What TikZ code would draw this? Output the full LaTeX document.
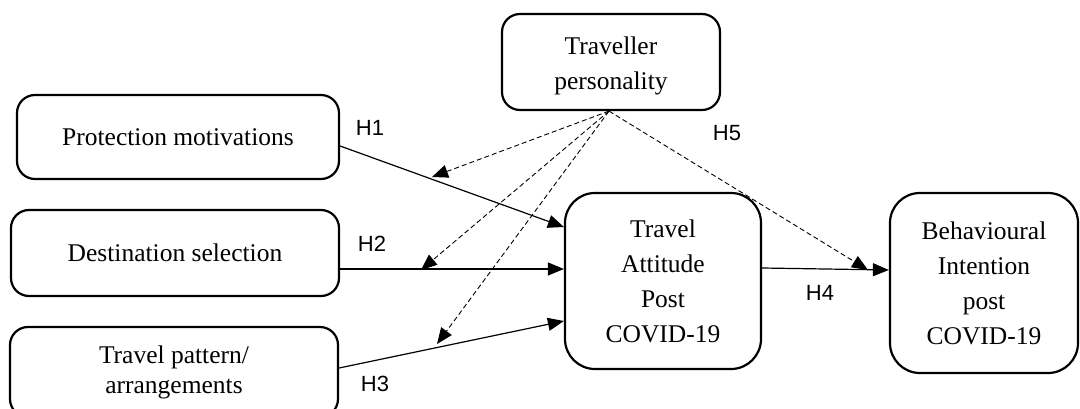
\documentclass[tikz,border=0pt]{standalone}
\usepackage{fontspec}
\setmainfont{Liberation Serif}
\newfontfamily\hfont{Liberation Sans}
\usetikzlibrary{arrows.meta,calc}
\tikzset{
  box/.style={draw, line width=2.2pt, rounded corners=18pt, align=center, inner sep=0pt,
    font=\fontsize{25.5}{35}\selectfont},
  bigbox/.style={box, rounded corners=30pt},
  arr/.style={line width=1.2pt, -{Triangle[length=16pt,width=13pt]}},
  darr/.style={line width=0.9pt, dash pattern=on 5pt off 3pt, -{Triangle[length=16pt,width=13pt]}},
  hlab/.style={font=\hfont\fontsize{22}{22}\selectfont, inner sep=0pt},
}
\begin{document}
\begin{tikzpicture}[x=1pt,y=-1pt]
\useasboundingbox (0,0) rectangle (1080,409);
\node[box, minimum width=218pt, minimum height=96pt] (tp) at (611,62) {};
\node[font=\fontsize{25.5}{35}\selectfont, align=center, inner sep=0pt] (tpt) at (611,66) {Traveller\\personality};
\node[box, minimum width=322pt, minimum height=84pt] (pm) at (178,137) {Protection motivations};
\node[box, minimum width=328pt, minimum height=86pt] (ds) at (175,253) {Destination selection};
\node[box, minimum width=328pt, minimum height=90pt, font=\fontsize{25.5}{30}\selectfont] (tpa) at (174,372) {Travel pattern/\\arrangements};
\node[bigbox, minimum width=196pt, minimum height=176pt] (att) at (663,281) {Travel\\Attitude\\Post\\COVID-19};
\node[bigbox, minimum width=188pt, minimum height=180pt] (bi) at (984,283) {Behavioural\\Intention\\post\\COVID-19};

\node[hlab] (h1) at (370,128) {H1};
\node[hlab] (h2) at (372,244) {H2};
\node[hlab] (h3) at (375,384) {H3};
\node[hlab] (h4) at (820,293) {H4};
\node[hlab] (h5) at (727,133) {H5};

\draw[arr] ([yshift=-9pt]pm.east) -- ([yshift=54pt]att.west);
\draw[arr] ([yshift=-16pt]ds.east) -- ([yshift=12pt]att.west);
\draw[arr] ([yshift=4pt]tpa.east) -- ([yshift=-40pt]att.west);
\draw[arr] ([yshift=13pt]att.east) -- ([yshift=13pt]bi.west);

\coordinate (d1) at (432,177);
\coordinate (d2) at (421,270);
\coordinate (d3) at (437,344);
\coordinate (d4) at (868,270);
\draw[darr] ([xshift=-2pt]tp.south) -- (d1);
\draw[darr] ([xshift=-2pt]tp.south) -- (d2);
\draw[darr] ([xshift=-2pt]tp.south) -- (d3);
\draw[darr] ([xshift=-2pt]tp.south) -- (d4);
\end{tikzpicture}
\end{document}
